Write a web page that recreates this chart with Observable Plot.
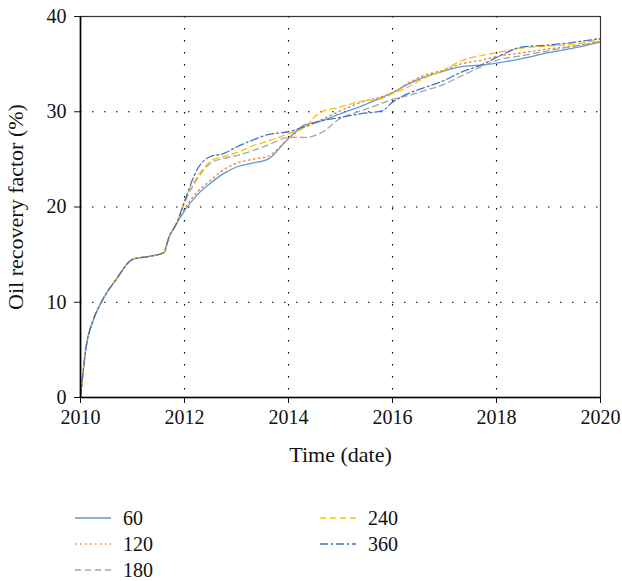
<!DOCTYPE html>
<html>
<head>
<meta charset="utf-8">
<script src="https://cdn.jsdelivr.net/npm/d3@7"></script>
<script src="https://cdn.jsdelivr.net/npm/@observablehq/plot@0.6"></script>
<style>
  body { margin: 0; background: #fff; font-family: "Liberation Serif", "Times New Roman", serif; }
  #chart { width: 622px; }
  .legend { display: grid; grid-template-columns: 245px 200px; grid-template-rows: 26px 26px 26px; grid-auto-flow: column; margin-left: 75px; margin-top: 25px; font-size: 20px; color: #111; }
  .legend div { display: flex; align-items: center; }
  .legend svg { margin-right: 12px; }
</style>
</head>
<body>
<div id="chart"></div>
<script>
const times = [2010, 2010.1, 2010.25, 2010.4, 2010.7, 2011.0, 2011.3, 2011.6, 2011.7, 2011.85,
  2012.0, 2012.25, 2012.5, 2012.75, 2013.0, 2013.3, 2013.6, 2014.0, 2014.3, 2014.6,
  2015.0, 2015.4, 2015.8, 2016.0, 2016.3, 2016.6, 2017.0, 2017.3, 2017.7, 2018.0,
  2018.5, 2019.0, 2019.5, 2020.0];
const early = [0, 5, 8.2, 10, 12.5, 14.5, 14.8, 15.2, 16.8, 18.3];
const v60  = [19.6, 21.3, 22.5, 23.5, 24.2, 24.6, 25.0, 27.2, 28.6, 29.0, 29.8, 30.6, 31.5, 32.0, 32.9, 33.6, 34.3, 34.7, 34.9, 35.1, 35.6, 36.2, 36.7, 37.3];
const v120 = [19.8, 21.6, 22.8, 23.9, 24.6, 25.0, 25.3, 27.2, 28.4, 29.1, 30.1, 31.0, 31.6, 32.0, 33.0, 33.8, 34.4, 35.0, 35.4, 35.8, 36.2, 36.6, 36.9, 37.3];
const v180 = [20.4, 23.0, 24.6, 25.1, 25.4, 25.9, 26.5, 27.3, 27.3, 27.7, 29.3, 30.1, 30.9, 31.3, 31.7, 32.2, 32.9, 33.7, 34.7, 35.4, 35.9, 36.4, 36.9, 37.4];
const v240 = [20.6, 23.2, 24.8, 25.3, 25.7, 26.4, 26.9, 27.7, 28.3, 29.9, 30.5, 31.1, 31.4, 31.9, 32.6, 33.5, 34.4, 35.3, 35.9, 36.2, 36.7, 36.9, 37.1, 37.6];
const v360 = [20.6, 24.0, 25.3, 25.6, 26.3, 27.0, 27.6, 27.9, 28.4, 29.0, 29.4, 29.8, 30.1, 31.0, 31.9, 32.5, 33.3, 34.1, 34.9, 35.7, 36.8, 37.0, 37.3, 37.7];
const seriesNames = ["60", "120", "180", "240", "360"];
const seriesValues = [v60, v120, v180, v240, v360];
const colors = ["#5b9bd5", "#ed7d31", "#a5a5a5", "#ffc000", "#4472c4"];
const dashes = ["none", "1.5,3.5", "6,4", "6,4", "8,3,2,3"];
const xTicks = [2010, 2012, 2014, 2016, 2018, 2020];
const yTicks = [0, 10, 20, 30, 40];

const data = [];
seriesNames.forEach((name, i) => {
  const vals = early.concat(seriesValues[i]);
  times.forEach((t, j) => data.push({series: name, t, v: vals[j]}));
});

const lineMarks = seriesNames.map((name, i) =>
  Plot.line(data.filter(d => d.series === name), {
    x: "t", y: "v", stroke: colors[i], strokeWidth: 1.3,
    strokeDasharray: dashes[i], curve: "monotone-x"
  })
);

const chart = Plot.plot({
  width: 622,
  height: 480,
  marginLeft: 80,
  marginRight: 22,
  marginTop: 16,
  marginBottom: 83,
  style: {fontFamily: "'Liberation Serif', 'Times New Roman', serif", fontSize: "20px", color: "#111", background: "#fff"},
  x: {domain: [2010, 2020]},
  y: {domain: [0, 40]},
  marks: [
    Plot.gridX(xTicks.slice(1, -1), {stroke: "#000", strokeOpacity: 1, strokeDasharray: "1.5,10.5", strokeWidth: 1.2}),
    Plot.gridY(yTicks.slice(1, -1), {stroke: "#000", strokeOpacity: 1, strokeDasharray: "1.5,10.5", strokeWidth: 1.2}),
    ...lineMarks,
    Plot.frame({stroke: "#333", strokeWidth: 1.2}),
    Plot.ruleX([2010], {stroke: "#000", strokeWidth: 1.6}),
    Plot.ruleY([0], {stroke: "#000", strokeWidth: 1.6}),
    Plot.axisX({ticks: xTicks, tickFormat: "d", tickSize: 6, tickPadding: 6, label: null, fontSize: 20}),
    Plot.axisX({ticks: [], label: "Time (date)", labelAnchor: "center", labelArrow: "none", labelOffset: 64, fontSize: 22}),
    Plot.axisY({ticks: yTicks, tickSize: 6, tickPadding: 8, label: null, fontSize: 20}),
    Plot.axisY({ticks: [], label: "Oil recovery factor (%)", labelAnchor: "center", labelArrow: "none", labelOffset: 73, fontSize: 22})
  ]
});
document.getElementById("chart").appendChild(chart);

const legend = document.createElement("div");
legend.className = "legend";
seriesNames.forEach((name, i) => {
  const item = document.createElement("div");
  item.innerHTML = `<svg width="36" height="10"><line x1="0" x2="36" y1="5" y2="5" stroke="${colors[i]}" stroke-width="1.5" stroke-dasharray="${dashes[i]}"/></svg><span>${name}</span>`;
  legend.appendChild(item);
});
document.getElementById("chart").appendChild(legend);
</script>
</body>
</html>
